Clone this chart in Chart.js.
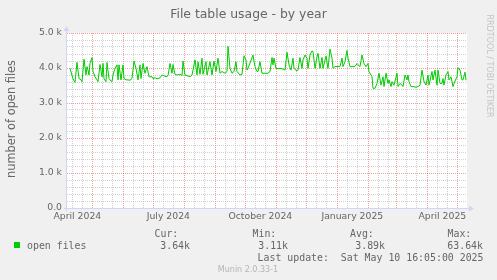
<!DOCTYPE html>
<html><head><meta charset="utf-8">
<script src="https://cdn.jsdelivr.net/npm/chart.js@4"></script>
<style>html,body{margin:0;padding:0;background:#f0f0f0;overflow:hidden}canvas{display:block}</style>
</head><body>
<canvas id="c" width="497" height="280"></canvas>
<script>
// ---- data (day offset from graph start, open files) ----
const days = [3,6,8,10,12,14,15,17,19,20,21,22,23,25,26,28,30,31,33,35,36,37,39,40,42,43,45,46,48,50,51,52,54,56,57,59,61,63,65,67,69,71,73,74,76,78,80,82,85,86,88,90,93,95,97,99,101,103,105,106,108,110,113,115,116,118,120,123,125,128,130,131,133,135,136,139,140,143,145,147,149,151,153,155,158,160,161,163,165,167,169,170,173,175,177,179,180,181,186,188,190,191,193,195,197,199,201,203,205,206,207,209,211,213,216,218,220,222,224,226,227,230,231,233,235,236,238,240,241,243,245,246,248,250,251,253,255,256,259,261,263,265,266,268,270,273,275,276,278,280,281,283,285,288,290,291,293,295,297,299,301,302,305,306,308,310,312,314,316,317,319,321,322,324,325,327,330,331,333,335,336,338,340,341,342,344,346,349,351,353,355,357,359,361,362,365,366,368,370,371,373,375,376,377,379,381,382,384,386,387,390,391,393,395,396,398,399];
const openFiles = [3990,3690,3590,4160,3700,3660,3610,4250,3800,4040,3940,3800,4130,4300,3900,3750,3660,3610,4100,3750,4130,3700,3610,4160,3700,3660,3610,3800,3990,4090,3660,4090,3660,4090,3700,3660,3660,3650,3700,4200,3990,3660,4090,3700,4130,3850,4040,3750,3750,3700,3720,3690,3720,3800,3780,3750,3780,4130,3850,4100,3820,3800,3820,3780,4200,3800,3780,3750,3800,4230,3800,4180,3820,4280,3820,4180,3800,4180,3800,4200,3900,4280,3850,3900,3850,3900,4620,3990,3850,3900,4180,3900,3800,3820,4350,4230,3940,3990,4370,4040,3900,3900,4180,3850,3850,3850,3850,3900,4300,4090,4280,3990,3980,3990,3970,3940,4450,4090,3940,4280,3990,3910,3940,4300,3990,4230,4370,4280,3990,4370,4490,4470,3990,4320,4420,3990,4300,3990,4340,3990,4540,4280,3990,4040,4040,4040,4280,4040,4180,4500,4280,4040,4040,4040,4130,4090,4040,4370,4130,4040,4130,3900,3750,3420,3420,3560,3850,3510,3750,3470,3850,3560,3660,3470,3610,3510,3850,3470,3560,3510,3470,3800,3660,3800,3610,3470,3470,3450,3470,3510,3940,3610,3510,3800,3510,3900,3660,3940,3510,3940,3560,3560,3700,3510,3800,3900,3660,3750,3470,3560,3750,4010,3940,3660,3660,3880,3650];

// ---- axis / labels ----
const graphStart = Date.UTC(2024, 3, 5, 16, 5);   // 400 days before last update
const spanDays = 400;
const gridMonths = ['2024-04','2024-05','2024-06','2024-07','2024-08','2024-09','2024-10','2024-11','2024-12','2025-01','2025-02','2025-03','2025-04','2025-05'];
const minorDaysOfMonth = ['11','21'];
const labelMonths = ['2024-04-01','2024-07-01','2024-10-01','2025-01-01','2025-04-01'];
const labelTexts = ['April 2024','July 2024','October 2024','January 2025','April 2025'];
const yMax = 5000, yMinorStep = 200, yMajorStep = 1000;
const yLabels = ['0.0','1.0 k','2.0 k','3.0 k','4.0 k','5.0 k'];

const title = 'File table usage - by year';
const yTitle = 'number of open files';
const legendName = 'open files';
const statHeads = ['Cur:','Min:','Avg:','Max:'];
const statVals = ['3.64k','3.11k','3.89k','63.64k'];
const lastUpdate = 'Last update:  Sat May 10 16:05:00 2025';
const version = 'Munin 2.0.33-1';
const watermark = 'RRDTOOL / TOBI OETIKER';

// ---- build helpers ----
const toDay = s => (Date.parse(s + 'T00:00:00Z') - graphStart) / 86400000;
const kinds = new Map();
const inRange = d => d > 0 && d < spanDays;
gridMonths.forEach(m => {
  const dm = toDay(m + '-01'); if (inRange(dm)) kinds.set(+dm.toFixed(4), 'major');
  minorDaysOfMonth.forEach(dd => { const d = toDay(m + '-' + dd); if (inRange(d)) kinds.set(+d.toFixed(4), 'minor'); });
});
const labelMap = new Map();
labelMonths.forEach((s, i) => { const v = +(toDay(s) + 15 + 0.001).toFixed(4); kinds.set(v, 'label'); labelMap.set(v, labelTexts[i]); });
const xTickVals = [...kinds.keys()].sort((a, b) => a - b);

const points = days.map((d, i) => ({ x: d, y: openFiles[i] }));

const GRID = 'rgba(170,170,170,0.55)';
const MGRID = 'rgba(230,80,80,0.55)';
const FONT = '#666666';
const AXIS = '#CFD6F8';

const deco = {
  id: 'deco',
  beforeDraw(chart) {
    const { ctx, chartArea: a } = chart;
    ctx.save();
    ctx.fillStyle = '#f0f0f0';
    ctx.fillRect(0, 0, chart.width, chart.height);
    ctx.fillStyle = '#ffffff';
    ctx.fillRect(a.left, a.top, a.right - a.left, a.bottom - a.top);
    ctx.restore();
  },
  afterDraw(chart) {
    const { ctx, chartArea: a } = chart;
    ctx.save();
    // axes
    ctx.strokeStyle = AXIS; ctx.fillStyle = AXIS; ctx.lineWidth = 1;
    ctx.beginPath();
    ctx.moveTo(a.left - 3, a.bottom + 0.5); ctx.lineTo(a.right + 3, a.bottom + 0.5);
    ctx.moveTo(a.left - 0.5, a.bottom + 3); ctx.lineTo(a.left - 0.5, a.top - 3);
    ctx.stroke();
    ctx.beginPath();
    ctx.moveTo(a.right + 2, a.bottom - 2.5); ctx.lineTo(a.right + 7, a.bottom + 0.5); ctx.lineTo(a.right + 2, a.bottom + 3.5); ctx.closePath(); ctx.fill();
    ctx.beginPath();
    ctx.moveTo(a.left - 3.5, a.top - 2); ctx.lineTo(a.left - 0.5, a.top - 7); ctx.lineTo(a.left + 2.5, a.top - 2); ctx.closePath(); ctx.fill();

    // title
    ctx.fillStyle = FONT;
    ctx.font = '12.4px "DejaVu Sans"';
    ctx.textAlign = 'center'; ctx.textBaseline = 'alphabetic';
    ctx.fillText(title, 248.5, 18);
    // y title
    ctx.save();
    ctx.translate(15, 119); ctx.rotate(-Math.PI / 2);
    ctx.font = '11.4px "DejaVu Sans"';
    ctx.fillText(yTitle, 0, 0);
    ctx.restore();
    // watermark
    ctx.save();
    ctx.translate(486.5, 66); ctx.rotate(Math.PI / 2);
    ctx.fillStyle = '#c4c4c4';
    ctx.font = '8px "DejaVu Sans"';
    ctx.fillText(watermark, 0, 0);
    ctx.restore();
    // legend
    ctx.font = '9.9px "DejaVu Sans Mono"';
    ctx.fillStyle = '#00cc00';
    ctx.fillRect(14, 242, 6, 6);
    ctx.fillStyle = FONT;
    ctx.textAlign = 'left';
    ctx.fillText(legendName, 27, 249);
    const headX = [154.5, 252.5, 350, 447.5];
    const valR = [190, 288, 385, 483];
    statHeads.forEach((h, i) => { ctx.textAlign = 'left'; ctx.fillText(h, headX[i], 237); });
    statVals.forEach((v, i) => { ctx.textAlign = 'right'; ctx.fillText(v, valR[i], 249); });
    ctx.textAlign = 'right';
    ctx.fillText(lastUpdate, 483.5, 261);
    ctx.textAlign = 'center';
    ctx.fillStyle = '#b4b4b4';
    ctx.font = '8px "DejaVu Sans"';
    ctx.fillText(version, 248, 272);
    ctx.restore();
  }
};

new Chart(document.getElementById('c'), {
  type: 'line',
  data: { datasets: [{ data: points, borderColor: '#00cc00', borderWidth: 1, pointRadius: 0, tension: 0, fill: false }] },
  options: {
    responsive: false, animation: false, devicePixelRatio: 1,
    layout: { padding: { top: 33, right: 30, left: 0, bottom: 0 } },
    plugins: { legend: { display: false }, tooltip: { enabled: false }, title: { display: false } },
    scales: {
      x: {
        type: 'linear', min: 0, max: spanDays,
        afterBuildTicks: s => { s.ticks = xTickVals.map(v => ({ value: v })); },
        afterFit: s => { s.height = 72; },
        grid: {
          drawTicks: false,
          color: c => { const k = kinds.get(c.tick && c.tick.value); return k === 'major' ? MGRID : (k === 'minor' ? GRID : 'rgba(0,0,0,0)'); },
          lineWidth: 1
        },
        border: { display: false, dash: [1, 1] },
        ticks: {
          autoSkip: false, maxRotation: 0, minRotation: 0, padding: 3,
          color: FONT, font: { family: 'DejaVu Sans', size: 9.3 },
          callback: v => labelMap.get(v) || ''
        }
      },
      y: {
        min: 0, max: yMax,
        afterBuildTicks: s => { const t = []; for (let v = 0; v <= yMax; v += yMinorStep) t.push({ value: v }); s.ticks = t; },
        afterFit: s => { s.width = 67; },
        grid: {
          drawTicks: false,
          color: c => (c.tick && c.tick.value % yMajorStep === 0) ? MGRID : GRID,
          lineWidth: 1
        },
        border: { display: false, dash: [1, 1] },
        ticks: {
          autoSkip: false, padding: 5,
          color: FONT, font: { family: 'DejaVu Sans', size: 9.3 },
          callback: v => (v % yMajorStep === 0) ? yLabels[v / yMajorStep] : ''
        }
      }
    }
  },
  plugins: [deco]
});
</script>
</body></html>
